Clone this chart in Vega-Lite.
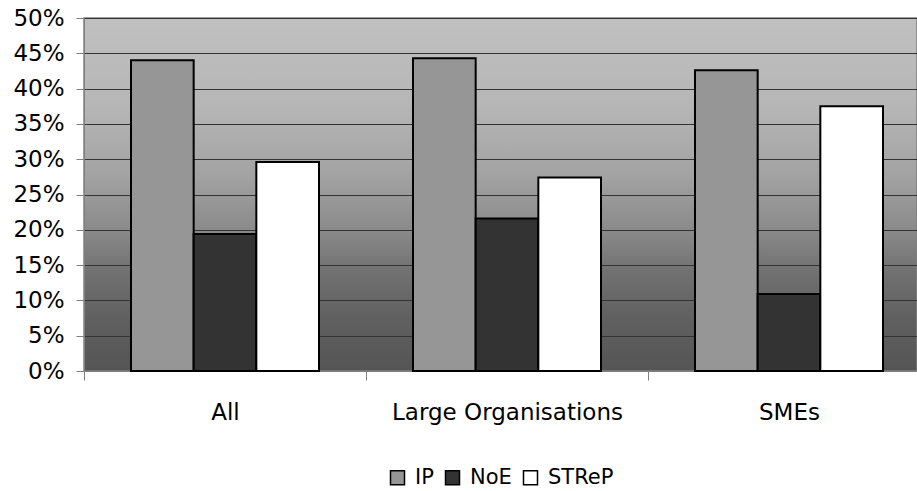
{
  "$schema": "https://vega.github.io/schema/vega-lite/v6.json",
  "width": 833,
  "height": 353,
  "autosize": "none",
  "padding": {"left": 84, "top": 18, "right": 0, "bottom": 120},
  "background": "white",
  "config": {
    "font": "DejaVu Sans",
    "view": {
      "fill": {
        "gradient": "linear", "x1": 0, "y1": 0, "x2": 0, "y2": 1,
        "stops": [
          {"offset": 0, "color": "#c0c0c0"},
          {"offset": 0.25, "color": "#b6b6b6"},
          {"offset": 0.45, "color": "#a2a2a2"},
          {"offset": 0.6, "color": "#8a8a8a"},
          {"offset": 0.72, "color": "#717171"},
          {"offset": 0.85, "color": "#606060"},
          {"offset": 1, "color": "#555555"}
        ]
      },
      "stroke": "#808080",
      "strokeWidth": 1.5
    }
  },
  "data": {
    "values": [
      {"group": "All", "type": "IP", "value": 0.440},
      {"group": "All", "type": "NoE", "value": 0.194},
      {"group": "All", "type": "STReP", "value": 0.296},
      {"group": "Large Organisations", "type": "IP", "value": 0.443},
      {"group": "Large Organisations", "type": "NoE", "value": 0.216},
      {"group": "Large Organisations", "type": "STReP", "value": 0.274},
      {"group": "SMEs", "type": "IP", "value": 0.426},
      {"group": "SMEs", "type": "NoE", "value": 0.109},
      {"group": "SMEs", "type": "STReP", "value": 0.375}
    ]
  },
  "mark": {"type": "bar", "stroke": "black", "strokeWidth": 2},
  "encoding": {
    "x": {
      "field": "group", "type": "nominal",
      "sort": ["All", "Large Organisations", "SMEs"],
      "scale": {"paddingInner": 0, "paddingOuter": 0, "range": [0, 846]},
      "axis": {
        "title": null, "labelAngle": 0, "tickBand": "extent", "tickSize": 9,
        "tickColor": "#808080", "domainColor": "#808080", "labelFontSize": 23,
        "labelColor": "black", "labelPadding": 21, "labelLimit": 0, "grid": false
      }
    },
    "xOffset": {
      "field": "type", "type": "nominal", "sort": ["IP", "NoE", "STReP"],
      "scale": {"paddingInner": 0, "paddingOuter": 0.75}
    },
    "y": {
      "field": "value", "type": "quantitative",
      "scale": {"domain": [0, 0.5], "nice": false},
      "axis": {
        "title": null, "format": ".0%",
        "values": [0, 0.05, 0.1, 0.15, 0.2, 0.25, 0.3, 0.35, 0.4, 0.45, 0.5],
        "grid": true, "gridColor": "#333333", "gridWidth": 1, "gridOpacity": 1,
        "tickSize": 8, "tickColor": "#808080", "domainColor": "#808080",
        "labelFontSize": 23, "labelPadding": 12, "labelColor": "black"
      }
    },
    "fill": {
      "field": "type", "type": "nominal",
      "scale": {"domain": ["IP", "NoE", "STReP"], "range": ["#969696", "#333333", "#ffffff"]},
      "legend": {
        "orient": "none", "legendX": 303, "legendY": 449, "direction": "horizontal",
        "title": null, "symbolType": "square", "symbolSize": 196,
        "symbolStrokeColor": "black", "symbolStrokeWidth": 1.5,
        "labelFontSize": 21, "labelOffset": 7, "columnPadding": 8, "labelColor": "black"
      }
    }
  }
}
